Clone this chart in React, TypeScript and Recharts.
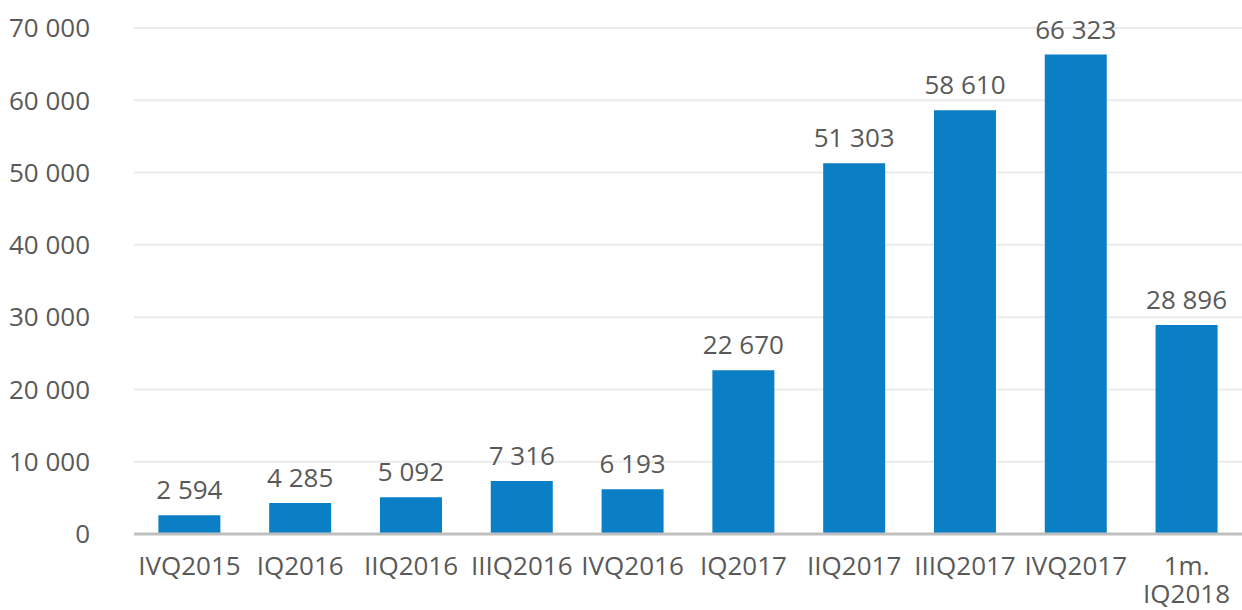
import { BarChart, Bar, XAxis, YAxis, CartesianGrid, LabelList, ReferenceLine } from "recharts";

const quarters = [
  "IVQ2015", "IQ2016", "IIQ2016", "IIIQ2016", "IVQ2016",
  "IQ2017", "IIQ2017", "IIIQ2017", "IVQ2017", "1m.\nIQ2018",
];
const counts = [2594, 4285, 5092, 7316, 6193, 22670, 51303, 58610, 66323, 28896];
const yTicks = [0, 10000, 20000, 30000, 40000, 50000, 60000, 70000];

const data = quarters.map((q, i) => ({ quarter: q, count: counts[i] }));

const fmt = (v: number) => String(v).replace(/\B(?=(\d{3})+(?!\d))/g, " ");

const textColor = "#595959";
const font = "'Open Sans', 'Noto Sans', sans-serif";

const QuarterTick = ({ x, y, payload }: any) => {
  const lines = String(payload.value).split("\n");
  return (
    <text x={x} y={y} textAnchor="middle" fill={textColor} fontSize={26} fontFamily={font}>
      {lines.map((l, i) => (
        <tspan key={i} x={x} dy={i === 0 ? 31 : 28}>{l}</tspan>
      ))}
    </text>
  );
};

export default function App() {
  return (
    <div style={{ position: "absolute", left: 0, top: 0, background: "#fff" }}>
      <BarChart
        width={1242}
        height={610}
        data={data}
        margin={{ top: 28, right: 0, left: 0, bottom: 0 }}
        barCategoryGap="22%"
      >
        <CartesianGrid vertical={false} stroke="#ebebeb" strokeWidth={2} />
        <XAxis
          dataKey="quarter"
          height={76}
          axisLine={false}
          tickLine={false}
          tickSize={0}
          interval={0}
          tick={<QuarterTick />}
          tickMargin={10}
        />
        <YAxis
          width={134}
          domain={[0, 70000]}
          ticks={yTicks}
          axisLine={false}
          tickLine={false}
          tickSize={0}
          tickMargin={44}
          tickFormatter={fmt}
          tick={{ fill: textColor, fontSize: 26, fontFamily: font }}
        />
        <Bar dataKey="count" fill="#0a7fc6" isAnimationActive={false}>
          <LabelList
            dataKey="count"
            position="top"
            offset={16}
            formatter={(v: any) => fmt(Number(v))}
            style={{ fill: textColor, fontSize: 26, fontFamily: font }}
          />
        </Bar>
        <ReferenceLine y={0} stroke="#bfbfbf" strokeWidth={3} />
      </BarChart>
    </div>
  );
}
